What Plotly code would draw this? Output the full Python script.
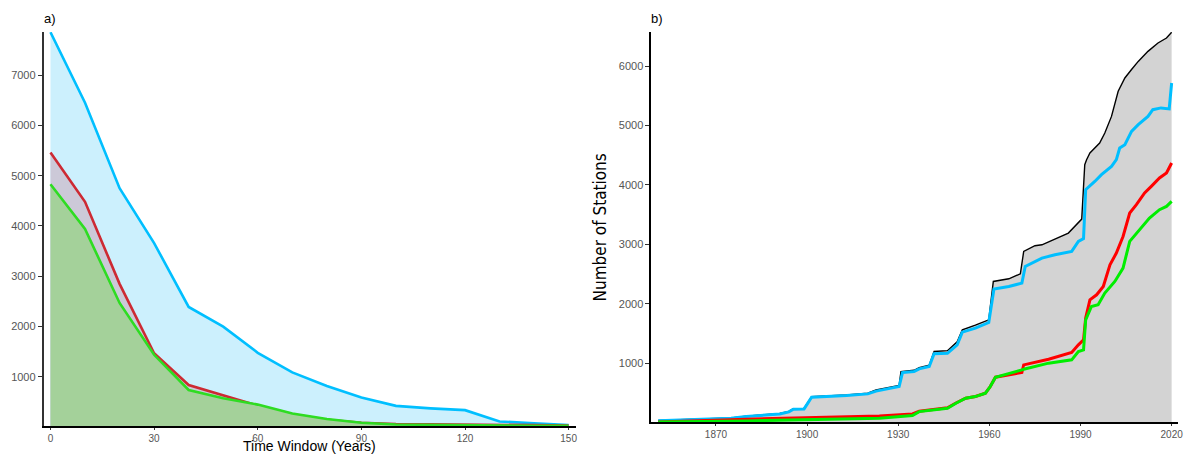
import plotly.graph_objects as go

# ---------- Panel a data ----------
time_window = [0, 10, 20, 30, 40, 50, 60, 70, 80, 90, 100, 110, 120, 130, 140, 150]
a_blue = [7850, 6450, 4750, 3660, 2390, 2000, 1480, 1090, 820, 590, 425, 375, 340, 115, 80, 45]
a_red = [5460, 4480, 2850, 1470, 840, 640, 430, 260, 150, 90, 65, 60, 58, 50, 42, 35]
a_green = [4830, 3940, 2470, 1440, 740, 575, 450, 275, 165, 90, 55, 45, 40, 35, 30, 28]

# ---------- Panel b data ----------
black_years = [1851, 1864, 1875, 1880, 1891, 1894, 1895.5, 1899, 1901.5, 1913, 1920, 1922.7,
               1930.3, 1930.9, 1935.2, 1936.9, 1940.2, 1941.8, 1946.2, 1949.4, 1951.1, 1955.4,
               1959.8, 1961.3, 1966.4, 1970.2, 1971.3, 1975, 1977.3, 1986, 1990.4, 1991.4,
               1992, 1993.1, 1994.7, 1996.3, 1998, 2000.2, 2002.4, 2004.6, 2006.8, 2009,
               2012.2, 2015.5, 2018.3, 2020]
black_vals = [35, 62, 80, 108, 153, 188, 233, 238, 438, 465, 495, 551,
              625, 859, 880, 925, 965, 1196, 1210, 1360, 1561, 1640,
              1730, 2375, 2420, 2504, 2880, 2976, 2992, 3189, 3424, 4340,
              4424, 4536, 4620, 4704, 4872, 5152, 5574, 5798, 5941, 6077,
              6246, 6387, 6470, 6568]

blue_years = [1851, 1864, 1875, 1880, 1891, 1894, 1895.5, 1899, 1901.5, 1913, 1920, 1922.7,
              1930.3, 1931.4, 1935.2, 1936.9, 1940.2, 1941.8, 1946.2, 1949.4, 1951.1, 1955.4,
              1959.8, 1961.5, 1966.4, 1970.7, 1971.8, 1977.3, 1981.6, 1987.1, 1989.3, 1991,
              1991.7, 1994.7, 1996.9, 2000.2, 2001.8, 2002.9, 2004.6, 2006.8, 2009, 2012.2,
              2013.8, 2016.5, 2019.2, 2020]
blue_vals = [30, 57, 74, 101, 146, 180, 225, 230, 428, 455, 483, 530,
             607, 842, 859, 905, 943, 1160, 1165, 1308, 1522, 1590,
             1684, 2246, 2290, 2347, 2627, 2768, 2824, 2880, 3048, 3095,
             3918, 4057, 4172, 4311, 4424, 4620, 4676, 4900, 5013, 5152,
             5265, 5295, 5278, 5714]

red_years = [1851, 1880, 1923.8, 1934.7, 1936.9, 1946.2, 1949, 1952.2, 1955.4, 1958.7, 1960.3,
             1962, 1970.7, 1971.3, 1979.5, 1987.1, 1989.3, 1991, 1991.7, 1993.1, 1995.3, 1997.5,
             1999.7, 2001.8, 2004, 2006.2, 2008.4, 2011.1, 2013.3, 2016, 2018.3, 2020]
red_vals = [10, 57, 113, 146, 190, 250, 330, 411, 440, 495, 607,
            764, 842, 971, 1067, 1179, 1308, 1393, 1758, 2066, 2150, 2290,
            2656, 2852, 3132, 3527, 3667, 3863, 3975, 4116, 4200, 4368]

green_years = [1851, 1880, 1923.8, 1934.7, 1936.9, 1946.2, 1949, 1952.2, 1955.4, 1958.7, 1960.3,
               1962, 1970.7, 1971.3, 1979.5, 1987.1, 1989.3, 1991, 1991.7, 1993.6, 1995.8, 1998,
               2001.3, 2004, 2006.2, 2009, 2012.7, 2016, 2018.3, 2020]
green_vals = [8, 28, 74, 118, 185, 242, 326, 411, 438, 495, 607,
              764, 887, 898, 1000, 1056, 1196, 1224, 1730, 1953, 1982, 2179,
              2375, 2600, 3049, 3217, 3442, 3582, 3638, 3722]

a_xticks = [0, 30, 60, 90, 120, 150]
a_yticks = [1000, 2000, 3000, 4000, 5000, 6000, 7000]
b_xticks = [1870, 1900, 1930, 1960, 1990, 2020]
b_yticks = [1000, 2000, 3000, 4000, 5000, 6000]

FONT = "Liberation Sans, Arial, sans-serif"

fig = go.Figure()

# Panel a: areas
fig.add_trace(go.Scatter(x=time_window, y=a_blue, mode="lines", fill="tozeroy",
                         fillcolor="#CCF0FD", line=dict(color="#00BFFF", width=2.6),
                         xaxis="x", yaxis="y", showlegend=False))
fig.add_trace(go.Scatter(x=time_window, y=a_red, mode="lines", fill="tozeroy",
                         fillcolor="#CCC9D8", line=dict(color="#CD2A33", width=2.6),
                         xaxis="x", yaxis="y", showlegend=False))
fig.add_trace(go.Scatter(x=time_window, y=a_green, mode="lines", fill="tozeroy",
                         fillcolor="#A4D19A", line=dict(color="#2EDC22", width=2.6),
                         xaxis="x", yaxis="y", showlegend=False))

# Panel b
fig.add_trace(go.Scatter(x=black_years, y=black_vals, mode="lines", fill="tozeroy",
                         fillcolor="#D3D3D3", line=dict(color="#000000", width=1.4),
                         xaxis="x2", yaxis="y2", showlegend=False))
fig.add_trace(go.Scatter(x=blue_years, y=blue_vals, mode="lines",
                         line=dict(color="#00BFFF", width=3),
                         xaxis="x2", yaxis="y2", showlegend=False))
fig.add_trace(go.Scatter(x=red_years, y=red_vals, mode="lines",
                         line=dict(color="#FF0000", width=3),
                         xaxis="x2", yaxis="y2", showlegend=False))
fig.add_trace(go.Scatter(x=green_years, y=green_vals, mode="lines",
                         line=dict(color="#00EE00", width=3),
                         xaxis="x2", yaxis="y2", showlegend=False))

W, H = 1188, 455

def px_x(p):
    return p / W

def px_y(p):
    return 1 - p / H

tickfont = dict(family=FONT, size=11, color="#555555")
xtickfont = dict(family=FONT, size=10, color="#555555")

fig.update_layout(
    width=W, height=H,
    margin=dict(l=0, r=0, t=0, b=0),
    paper_bgcolor="white", plot_bgcolor="white",
    xaxis=dict(domain=[px_x(44), px_x(578)], range=[-1.93, 152.0], tickvals=a_xticks,
               showgrid=False, zeroline=False, showline=True, linecolor="#000000", linewidth=1.5,
               ticks="outside", ticklen=2, tickcolor="#333333", tickfont=xtickfont, anchor="y"),
    yaxis=dict(domain=[px_y(426), px_y(32)], range=[25, 7855], tickvals=a_yticks,
               showgrid=False, zeroline=False, showline=True, linecolor="#333333", linewidth=2,
               ticks="outside", ticklen=4, tickcolor="#333333", tickfont=tickfont, anchor="x"),
    xaxis2=dict(domain=[px_x(654), px_x(1183)], range=[1848.7, 2022.1], tickvals=b_xticks,
                showgrid=False, zeroline=False, showline=True, linecolor="#000000", linewidth=1.5,
                ticks="outside", ticklen=2, tickcolor="#333333", tickfont=xtickfont, anchor="y2"),
    yaxis2=dict(domain=[px_y(422), px_y(32)], range=[10, 6572], tickvals=b_yticks,
                showgrid=False, zeroline=False, showline=True, linecolor="#000000", linewidth=1.5,
                ticks="outside", ticklen=4, tickcolor="#333333", tickfont=tickfont, anchor="x2"),
    annotations=[
        dict(text="a)", x=px_x(42), y=px_y(19), xref="paper", yref="paper",
             xanchor="left", yanchor="middle", showarrow=False,
             font=dict(family=FONT, size=13, color="#000000")),
        dict(text="b)", x=px_x(652), y=px_y(19), xref="paper", yref="paper",
             xanchor="left", yanchor="middle", showarrow=False,
             font=dict(family=FONT, size=13, color="#000000")),
        dict(text="Time Window (Years)", x=px_x(311), y=px_y(455), xref="paper", yref="paper",
             xanchor="center", yanchor="bottom", showarrow=False, borderpad=0,
             font=dict(family=FONT, size=14, color="#000000")),
        dict(text="Number of Stations", x=px_x(603), y=px_y(227), xref="paper", yref="paper",
             xanchor="center", yanchor="middle", showarrow=False, textangle=-90,
             font=dict(family="DejaVu Sans Condensed, Liberation Sans Narrow, Liberation Sans, sans-serif",
                       size=17, color="#000000")),
    ],
)

fig.write_html("out.html", config={"displayModeBar": False},
               post_script="document.body.style.margin='0';document.body.style.overflow='hidden';")
